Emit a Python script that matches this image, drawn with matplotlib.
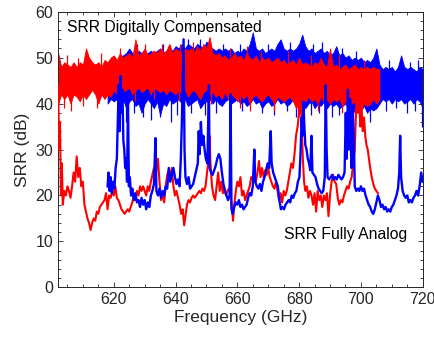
import numpy as np
import matplotlib
matplotlib.use("Agg")
import matplotlib.pyplot as plt
from matplotlib.ticker import MultipleLocator

# ---------------- data ----------------
# Digitally compensated SRR, red device: envelope per 1 GHz (602..706 GHz)
red_comp_f = list(range(602, 707))
red_comp_top = [51, 48, 49, 48.5, 48, 49, 48, 49, 48.5, 52, 50, 49, 48.5, 49, 48, 49.5, 49, 50,
                50.5, 49.5, 51, 50, 50.5, 51, 50, 54, 50.5, 51, 52, 50.5, 51, 51.5, 51, 52, 51,
                51.5, 53, 51, 52, 51.5, 51, 52, 51.5, 52, 51, 52.5, 51.5, 53, 52, 54.5, 51, 50.5,
                51, 50, 50.5, 49.5, 50, 51, 50, 50.5, 49.5, 51, 50, 49.5, 50.5, 49, 50, 49.5, 50,
                49, 49.5, 50, 49, 49.5, 48.5, 49, 49.5, 48.5, 50, 48.5, 49, 48.5, 48, 49, 48.5,
                50, 48.5, 48, 52, 48, 48.5, 47.5, 48, 48.5, 47.5, 48, 48.5, 47.5, 48, 47.5, 48,
                47.5, 48, 47.5, 47.5]
red_comp_bot = [40, 42, 41, 42, 40, 42, 41.5, 40.5, 42, 41, 42, 43, 42, 40, 42, 41, 42, 41.5,
                43, 42, 43, 42.5, 43, 43.5, 42, 43, 43.5, 42.5, 43, 43.5, 42, 43.5, 43, 42.5, 43,
                42, 43, 42.5, 42, 43, 42, 43, 41.5, 42.5, 43, 42, 41, 42.5, 43, 42, 42.5, 41.5,
                42, 41, 42.5, 41, 42, 41.5, 40.5, 42, 41, 42, 40, 41.5, 42, 41, 40.5, 41.5, 42,
                41, 40, 41.5, 41, 40.5, 41, 41.5, 40.5, 39, 40, 41, 40.5, 41.5, 40.5, 41, 40,
                41.5, 40.5, 41, 40, 41, 40.5, 41, 39.5, 40.5, 41, 40, 40.5, 39, 38.5, 40, 39.5,
                40, 41, 40, 41]
# single-sample excursions of the red compensated trace
red_peak_f = [605, 608.5, 616, 622, 630, 635.5, 641.5, 645.5, 657.5, 663, 667.5, 676.5, 684, 693, 701]
red_peak_v = [50.5, 50, 51, 52, 53, 53, 53, 53.5, 52, 52.5, 51.5, 51.5, 50.5, 50.5, 49.5]
red_dip_f = [604, 606, 610, 614.5, 627, 633, 641, 651.5, 661, 664, 672, 679.5, 686, 694, 700]
red_dip_v = [39, 38.5, 39.5, 39, 40.5, 41, 40.5, 40, 39, 38.5, 38.5, 37, 38.5, 38, 37.5]

# Digitally compensated SRR, blue device: envelope per 1 GHz (618..720 GHz)
blue_comp_f = list(range(618, 721))
blue_comp_top = [48, 49, 50, 49, 50, 50.5, 51, 52, 51, 50, 51.5, 51, 50.5, 51, 51.5, 51, 51.5,
                 52, 51, 51.5, 52, 51.5, 52.5, 52, 53, 52, 53, 52.5, 52, 53, 52.5, 52, 53.5,
                 52.5, 52, 51.5, 52, 51.5, 52, 51.5, 52, 51, 51.5, 51, 52, 51.5, 53, 55.5, 52,
                 51.5, 52, 51, 51.5, 52, 51.5, 53, 54, 52, 51.5, 52, 51.5, 52, 53, 55, 52.5,
                 51.5, 52, 51, 51.5, 52, 51, 51.5, 50.5, 51, 52.5, 50.5, 51, 50, 50.5, 49.5, 50,
                 49.5, 50, 49, 49.5, 49, 50, 52, 48.5, 47.5, 48, 47.5, 48, 47, 48, 50.5, 48,
                 47.5, 48, 47.5, 47, 48, 47.5]
blue_comp_bot = [40, 41, 40.5, 41, 40, 41, 39, 40.5, 41, 39.5, 40, 38, 40, 41, 40, 39, 40.5,
                 37.5, 40, 39.5, 41, 40, 40.5, 41, 40, 41, 39.5, 40, 40.5, 41, 39, 40, 40.5, 41,
                 40, 41, 40, 39.5, 40.5, 41, 40, 40.5, 41, 40, 40.5, 39.5, 40, 41, 40, 40.5, 39,
                 40, 40.5, 39.5, 40, 41, 40, 40.5, 39.5, 40, 41, 40, 39.5, 40, 39, 40, 40.5, 39,
                 40, 39.5, 40.5, 39, 40, 39.5, 40, 39, 39.5, 40, 38.5, 39.5, 38, 39, 38.5, 39.5,
                 38, 39, 38.5, 39, 40, 41, 40.5, 41, 40, 41, 40.5, 41, 40, 40.5, 41, 40, 41,
                 40.5, 39]
blue_peak_f = [627.5, 636, 644, 648, 655.5, 661, 670, 677, 684.5, 687.5, 694, 698.5, 709, 716, 718.5]
blue_peak_v = [53, 53, 54, 54, 53, 53, 53, 53.5, 53, 53.5, 52, 51.5, 49.5, 49, 49.5]
blue_dip_f = [624, 626.5, 629.5, 632, 635, 638.5, 640.5, 645, 649.5, 653, 661.5, 668, 672, 676,
              679, 684, 686.5, 690.5, 693, 697, 700, 703, 708, 711.5, 715, 717.5, 719.8]
blue_dip_v = [36, 38, 37, 36.5, 37, 36, 37.5, 38, 37.5, 38, 38.5, 38, 37.5, 38.5, 37, 37.5, 38,
              37, 37.5, 36.5, 36.5, 36, 38.5, 39, 38, 38.5, 35]

# Fully analog SRR, red device
red_an_f = [602.0, 602.3, 602.6, 602.9, 603.2, 603.5, 604.0, 604.5, 605.0, 605.5, 606.0, 606.5,
            607.0, 607.5, 608.0, 608.5, 609.0, 609.5, 610.0, 610.5, 611.0, 611.5, 612.0, 612.5,
            613.0, 613.5, 614.0, 614.5, 615.0, 615.5, 616.0, 616.5, 617.0, 617.5, 618.0, 618.5,
            619.0, 619.5, 620.0, 620.5, 621.0, 621.5, 622.0, 622.5, 623.0, 623.5, 624.0, 624.5,
            625.0, 625.5, 626.0, 626.5, 627.0, 627.5, 628.0, 628.5, 629.0, 629.5, 630.0, 630.5,
            631.0, 631.5, 632.0, 632.5, 633.0, 633.5, 634.0, 634.3, 634.8, 635.3, 635.8, 636.3,
            636.8, 637.3, 637.8, 638.3, 638.8, 639.3, 639.8, 640.3, 640.8, 641.3, 641.8, 642.3,
            642.8, 643.2, 643.7, 644.2, 644.7, 645.2, 645.7, 646.2, 646.7, 647.2, 647.7, 648.2,
            648.7, 649.2, 649.7, 650.2, 650.7, 651.0, 651.3, 651.8, 652.3, 652.8, 653.3, 653.8,
            654.3, 654.8, 655.3, 655.8, 656.3, 656.8, 657.3, 657.8, 658.3, 658.6, 659.0, 659.5,
            660.0, 660.5, 661.0, 661.5, 662.0, 662.5, 663.0, 663.5, 664.0, 664.5, 665.0, 665.5,
            666.0, 666.5, 667.0, 667.5, 668.0, 668.5, 669.0, 669.5, 670.0, 670.5, 671.0, 671.5,
            672.0, 672.5, 673.0, 673.5, 674.0, 674.5, 675.0, 675.5, 676.0, 676.5, 677.0, 677.5,
            678.0, 678.5, 679.0, 679.5, 680.0, 680.4, 680.8, 681.2, 681.6, 682.0, 682.5, 683.0,
            683.5, 684.0, 684.5, 685.0, 685.5, 686.0, 686.5, 687.0, 687.5, 688.0, 688.5, 689.0,
            689.5, 690.0, 690.5, 691.0, 691.5, 692.0, 692.5, 693.0, 693.5, 694.0, 694.5, 695.0,
            695.5, 696.0, 696.5, 697.0, 697.5, 698.0, 698.3, 698.6, 699.0, 699.4, 699.8, 700.2,
            700.6, 701.0, 701.4, 701.8, 702.2, 702.6, 703.0, 703.5, 704.0, 704.5, 705.0, 705.5]
red_an_v = [44, 30, 36, 20, 27, 18, 21, 20, 22, 21, 19.5, 22, 25, 23, 28.5, 24, 26, 22, 23, 18,
            16.5, 15, 14, 12.5, 14, 15, 14.5, 16.5, 16, 17.5, 18, 18.5, 19, 20.5, 17, 20, 19.5,
            21, 20, 22, 19.5, 19, 18, 17, 16.5, 16, 16.5, 17, 16.5, 17.5, 18.5, 20, 19, 21, 20,
            22, 21, 22, 21, 20, 22, 21, 23, 24.5, 26, 24, 26.5, 28, 23, 19, 20.5, 18.5, 22,
            24.5, 25.5, 24, 26, 22, 20, 21, 19.5, 18, 16, 17, 13.5, 15.5, 18, 19, 18.5, 19.5,
            20, 19.5, 20, 20.5, 21, 20.5, 21.5, 21, 22, 25, 28, 33, 27, 22, 20, 19, 22, 25, 21,
            23, 20.5, 21.5, 20, 21, 21.5, 20, 17, 14.5, 18, 21, 23, 22, 24, 20, 21, 19, 20, 21,
            22, 24, 23.5, 25.5, 23, 25, 27.5, 24, 26, 24, 25.5, 24.5, 26, 24, 23, 22, 21.5, 23,
            21, 19, 20.5, 18.5, 21, 20, 21, 23, 25, 27, 26, 29, 33, 35, 38, 42, 36, 28, 23, 21,
            22, 19.5, 21, 20, 18, 20.5, 16.5, 21, 19, 20, 17.5, 20, 19, 20.5, 15.5, 20, 23,
            24.5, 23, 22.5, 19.5, 18, 19, 18.5, 20, 21, 22, 21.5, 23, 24, 27, 30, 36, 42, 38,
            41, 35, 39, 34, 37, 33, 31, 30, 28, 26, 24, 22.5, 21.5, 21, 20.5]

# Fully analog SRR, blue device
blue_an_f = [618.0, 618.3, 618.6, 619.0, 619.4, 619.8, 620.2, 620.6, 621.0, 621.3, 621.6, 621.9,
             622.2, 622.5, 622.8, 623.1, 623.4, 623.7, 624.0, 624.3, 624.6, 624.9, 625.2, 625.6,
             626.0, 626.5, 627.0, 627.5, 628.0, 628.5, 629.0, 629.5, 630.0, 630.5, 631.0, 631.5,
             632.0, 632.5, 633.0, 633.5, 633.8, 634.3, 634.8, 635.3, 635.8, 636.3, 636.8, 637.3,
             637.8, 638.3, 638.8, 639.3, 639.8, 640.3, 640.8, 641.3, 641.7, 642.0, 642.3, 642.6,
             642.9, 643.2, 643.7, 644.2, 644.7, 645.2, 645.7, 646.2, 646.7, 647.2, 647.5, 647.8,
             648.2, 648.6, 649.0, 649.4, 649.8, 650.3, 650.8, 651.0, 651.5, 652.0, 652.5, 653.0,
             653.5, 654.0, 654.5, 655.0, 655.5, 656.0, 656.5, 657.0, 657.5, 657.8, 658.1, 658.5,
             659.0, 659.5, 660.0, 660.5, 661.0, 661.5, 662.0, 662.5, 663.0, 663.5, 664.0, 664.5,
             665.0, 665.5, 665.8, 666.3, 666.8, 667.3, 667.8, 668.3, 668.8, 669.3, 669.8, 670.3,
             670.8, 671.1, 671.6, 672.1, 672.6, 673.1, 673.6, 674.1, 674.6, 675.1, 675.6, 676.1,
             676.6, 677.1, 677.6, 678.1, 678.6, 679.1, 679.6, 680.1, 680.5, 680.8, 681.1, 681.4,
             681.7, 682.0, 682.4, 682.8, 683.2, 683.6, 684.0, 684.3, 684.8, 685.3, 685.8, 686.3,
             686.8, 687.3, 687.8, 688.3, 688.6, 688.9, 689.2, 689.7, 690.2, 690.7, 691.2, 691.7,
             692.2, 692.7, 693.2, 693.7, 694.2, 694.7, 695.1, 695.4, 695.8, 696.1, 696.5, 696.9,
             697.3, 697.7, 698.0, 698.5, 699.0, 699.5, 700.0, 700.5, 701.0, 701.5, 702.0, 702.5,
             703.0, 703.5, 704.0, 704.5, 705.0, 705.5, 706.0, 706.5, 707.0, 707.5, 708.0, 708.5,
             709.0, 709.5, 710.0, 710.5, 711.0, 711.5, 712.0, 712.4, 712.7, 713.0, 713.5, 714.0,
             714.5, 715.0, 715.5, 716.0, 716.5, 717.0, 717.5, 718.0, 718.5, 719.0, 719.5, 720.0]
blue_an_v = [22, 25, 21, 24, 20.5, 23, 21.5, 26, 28, 36, 44, 34, 46, 38, 43, 32, 30, 26, 28, 23,
             41, 22, 24, 20, 21.5, 19, 20.5, 18.5, 19, 17.5, 19.5, 18, 19, 17, 18.5, 17.5, 20,
             21, 22.5, 32.5, 21, 20, 21.5, 19.5, 21, 20, 22, 21.5, 26, 23, 24.5, 26, 24, 22.5,
             23.5, 22, 28, 35, 45, 54, 30, 24, 22.5, 24, 21.5, 22, 22.5, 24, 25.5, 27, 34, 29,
             36, 31, 33, 30, 28, 27, 44, 26, 25, 24.5, 25.5, 26.5, 28, 29, 28, 25, 22.5, 21, 20,
             19, 20, 42, 17, 16, 17.5, 18.5, 18, 19, 17.5, 18, 17, 17.5, 18, 19.5, 20.5, 20, 22,
             30, 23, 22, 21.5, 22.5, 21, 23, 24, 25.5, 27, 26, 34, 27, 25, 24, 23, 22, 19, 17,
             17.5, 17, 18, 18.5, 19, 18.5, 20, 19.5, 20.5, 21, 23, 24, 30, 37, 33, 40, 35, 31,
             30, 28, 27, 25.5, 33, 25, 24.5, 24, 22.5, 21.5, 21, 20.5, 21, 24, 44, 30, 24, 23.5,
             24, 24.5, 23.5, 24, 23.5, 24.5, 24, 23.5, 24, 25, 38, 28, 43, 30, 41, 26, 39, 33,
             22, 21, 21.5, 21, 22, 21, 21.5, 20, 19, 18, 17.5, 16.5, 16, 17, 18.5, 20, 19, 17.5,
             18, 17, 17.5, 16.5, 17, 16.5, 17.5, 18, 19, 20, 21.5, 25, 33, 24, 21, 20, 19.5, 20,
             18.5, 19, 18.5, 19.5, 20, 21, 20, 22, 25, 23]

x_ticks = [620, 640, 660, 680, 700, 720]
y_ticks = [0, 10, 20, 30, 40, 50, 60]

# ---------------- plotting ----------------
RED = "#ff0000"
BLUE = "#0000ff"
DARK = "#262626"
BAND_MID = 45

plt.rcParams["font.family"] = ["Liberation Sans", "DejaVu Sans"]

fig = plt.figure(figsize=(4.34, 3.45), dpi=100)
ax = fig.add_axes([0.134, 0.167, 0.840, 0.799])

# compensated bands (blue under red)
ax.fill_between(blue_comp_f, blue_comp_bot, blue_comp_top, color=BLUE, lw=0.6, zorder=1)
ax.vlines(blue_peak_f, BAND_MID, blue_peak_v, color=BLUE, lw=0.9, zorder=1)
ax.vlines(blue_dip_f, blue_dip_v, BAND_MID, color=BLUE, lw=0.9, zorder=1)
ax.fill_between(red_comp_f, red_comp_bot, red_comp_top, color=RED, lw=0.6, zorder=2)
ax.vlines(red_peak_f, BAND_MID, red_peak_v, color=RED, lw=0.9, zorder=2)
ax.vlines(red_dip_f, red_dip_v, BAND_MID, color=RED, lw=0.9, zorder=2)

# fully analog traces
ax.plot(red_an_f, red_an_v, color=RED, lw=1.5, zorder=3)
ax.plot(blue_an_f, blue_an_v, color=BLUE, lw=1.7, zorder=4)

ax.set_xlim(602, 720)
ax.set_ylim(0, 60)
ax.set_xticks(x_ticks)
ax.set_yticks(y_ticks)
ax.xaxis.set_minor_locator(MultipleLocator(5))
ax.yaxis.set_minor_locator(MultipleLocator(2))
ax.tick_params(which="both", direction="in", top=True, right=True, colors=DARK,
               labelsize=11.5, width=0.6)
ax.tick_params(which="major", length=3.5)
ax.tick_params(which="minor", length=2)
for s in ax.spines.values():
    s.set_color(DARK)
    s.set_linewidth(0.7)

ax.set_xlabel("Frequency (GHz)", fontsize=12.5, color=DARK, labelpad=2)
ax.set_ylabel("SRR (dB)", fontsize=12.5, color=DARK, labelpad=4)

ax.text(605, 55.6, "SRR Digitally Compensated", fontsize=11.3, color="black",
        va="baseline", ha="left", zorder=6)
ax.text(675, 10.6, "SRR Fully Analog", fontsize=11.3, color="black",
        va="baseline", ha="left", zorder=6)

fig.savefig("out.png", dpi=100)
